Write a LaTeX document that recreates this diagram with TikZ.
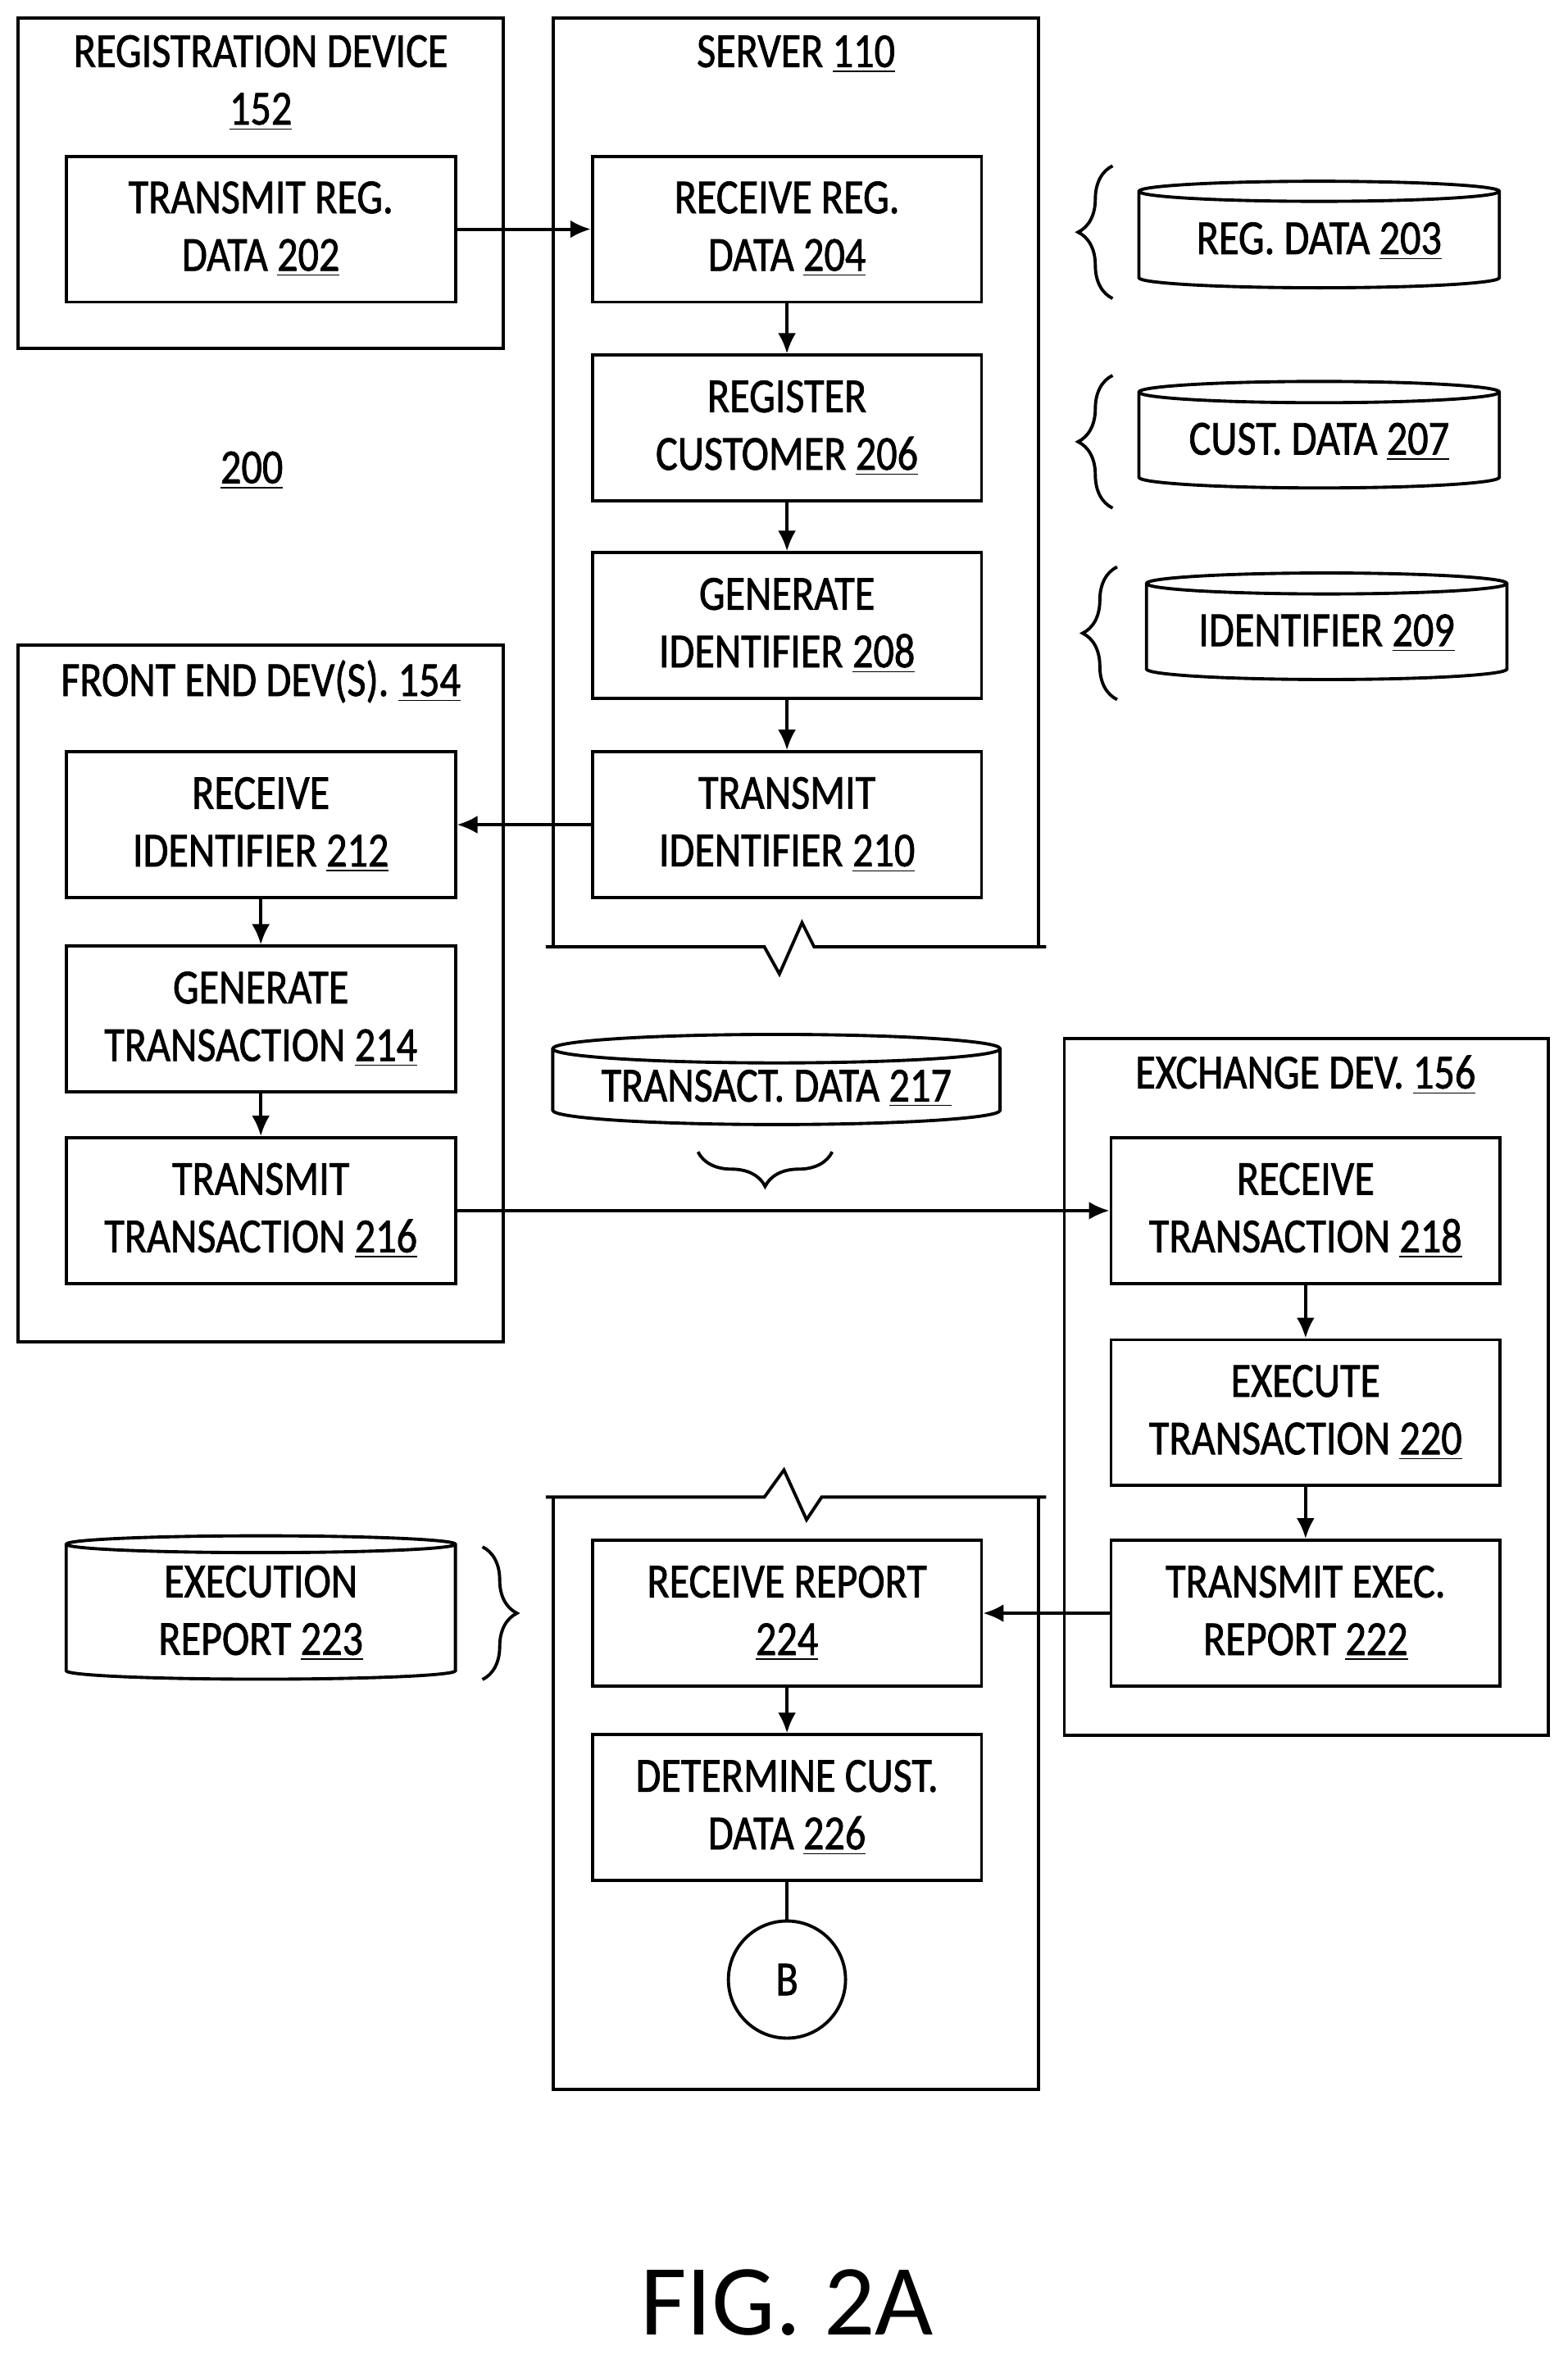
\documentclass[tikz,border=0pt]{standalone}
\usepackage{fontspec}
\setmainfont{Carlito}[FakeStretch=0.84, FakeBold=1.2]
\newfontfamily\figfont{Carlito}
\usetikzlibrary{shapes.geometric, arrows.meta, decorations.pathreplacing}

\begin{document}
\begin{tikzpicture}[
    x=0.0184cm, y=-0.0184cm,
    every node/.style={font=\fontsize{17}{20}\selectfont, align=center},
    proc/.style={rectangle, draw, line width=1.1pt, minimum width=4.75cm, minimum height=1.78cm, inner sep=1pt},
    dev/.style={rectangle, draw, line width=1.1pt},
    store/.style={cylinder, shape border rotate=90, draw, line width=1.1pt, aspect=0.08, minimum width=4.4cm, minimum height=1.3cm, inner sep=1pt},
    arrow/.style={-{Latex[length=2.5mm,width=2.2mm]}, line width=1.1pt},
    brc/.style={decorate, decoration={brace, amplitude=12pt}, line width=1.1pt},
]
\useasboundingbox (0,0) rectangle (1040,1568);

% Registration device
\draw[dev] (12,12) rectangle (334,231);
\node (regtitle) at (173,55) {REGISTRATION DEVICE\\\underline{152}};
\node[proc] (s202) at (173,152) {TRANSMIT REG.\\DATA \underline{202}};

% Server
\draw[line width=1.1pt] (362,628) -- (507,628) -- (517,646) -- (532,612) -- (540,628) -- (694,628);
\draw[line width=1.1pt] (367,628) -- (367,12) -- (689,12) -- (689,628);
\node (srvtitle) at (528,36) {SERVER \underline{110}};
\node[proc] (s204) at (522,152) {RECEIVE REG.\\DATA \underline{204}};
\node[proc] (s206) at (522,284) {REGISTER\\CUSTOMER \underline{206}};
\node[proc] (s208) at (522,415) {GENERATE\\IDENTIFIER \underline{208}};
\node[proc] (s210) at (522,547) {TRANSMIT\\IDENTIFIER \underline{210}};

% Data stores
\node[store] (d203) at (875,160) {REG. DATA \underline{203}};
\node[store] (d207) at (875,293) {CUST. DATA \underline{207}};
\node[store] (d209) at (880,420) {IDENTIFIER \underline{209}};
\draw[brc] (738,198) -- (738,110);
\draw[brc] (738,337) -- (738,249);
\draw[brc] (741,464) -- (741,376);

\node (n200) at (167,312) {\underline{200}};

% Front end devices
\draw[dev] (12,428) rectangle (334,890);
\node (fetitle) at (173,452) {FRONT END DEV(S). \underline{154}};
\node[proc] (s212) at (173,547) {RECEIVE\\IDENTIFIER \underline{212}};
\node[proc] (s214) at (173,676) {GENERATE\\TRANSACTION \underline{214}};
\node[proc] (s216) at (173,803) {TRANSMIT\\TRANSACTION \underline{216}};

% Transaction data
\node[store, minimum width=5.46cm, minimum height=1.1cm] (d217) at (515,722) {TRANSACT. DATA \underline{217}};
\draw[brc] (552,764) -- (463,764);

% Exchange device
\draw[dev] (706,689) rectangle (1027,1151);
\node (extitle) at (866,713) {EXCHANGE DEV. \underline{156}};
\node[proc] (s218) at (866,803) {RECEIVE\\TRANSACTION \underline{218}};
\node[proc] (s220) at (866,937) {EXECUTE\\TRANSACTION \underline{220}};
\node[proc] (s222) at (866,1070) {TRANSMIT EXEC.\\REPORT \underline{222}};

% Server (continued)
\draw[line width=1.1pt] (362,993) -- (507,993) -- (520,975) -- (535,1008) -- (545,993) -- (694,993);
\draw[line width=1.1pt] (367,993) -- (367,1386) -- (689,1386) -- (689,993);
\node[proc] (s224) at (522,1070) {RECEIVE REPORT\\\underline{224}};
\node[proc] (s226) at (522,1199) {DETERMINE CUST.\\DATA \underline{226}};
\node[circle, draw, line width=1.1pt, minimum size=1.43cm, inner sep=0pt] (conB) at (522,1313) {B};

% Execution report
\node[store, minimum width=4.75cm, minimum height=1.75cm] (d223) at (173,1070) {EXECUTION\\REPORT \underline{223}};
\draw[brc] (320,1026) -- (320,1114);

% Connections
\draw[arrow] (s202) -- (s204);
\draw[arrow] (s204) -- (s206);
\draw[arrow] (s206) -- (s208);
\draw[arrow] (s208) -- (s210);
\draw[arrow] (s210) -- (s212);
\draw[arrow] (s212) -- (s214);
\draw[arrow] (s214) -- (s216);
\draw[arrow] (s216) -- (s218);
\draw[arrow] (s218) -- (s220);
\draw[arrow] (s220) -- (s222);
\draw[arrow] (s222) -- (s224);
\draw[arrow] (s224) -- (s226);
\draw[line width=1.1pt] (s226) -- (conB);

\node[font=\figfont\fontsize{35}{40}\selectfont] (fig) at (522,1527) {FIG. 2A};
\end{tikzpicture}
\end{document}
